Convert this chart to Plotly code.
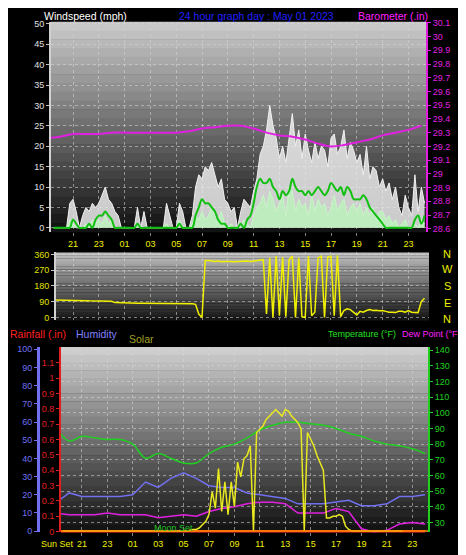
import numpy as np
import plotly.graph_objects as go

W, H = 466, 555
def px_x(p): return p / W
def px_y(p): return 1 - p / H

# ---- data ----
t_q = np.arange(19.5, 48.26, 0.25)   # quarter-hour times (hours since midnight of day before)
t_h = np.arange(19, 49, 1.0)         # hourly times

gust = [0,0, 0,0,0,6, 7,4,0,3, 5,4,6,5, 6,8,10,7, 6,4,3,0, 0,0,0,0, 5,0,4,0, 0,0,0,0,
        0,6,3,0, 0,6,4,0, 0,3,10,13, 12,15,14,16, 13,10,12,7, 6,4,5,0, 4,7,6,5,
        9,12,18,20, 24,30,25,22, 17,20,16,22, 28,20,24,17, 23,19,16,21, 17,20,19,15,
        22,23,18,20, 24,17,21,19, 16,18,13,20, 12,15,14,10, 12,9,11,7, 10,5,3,8,
        5,3,13,4, 10,6]
wind = [0,0, 0,0,0,2, 1,0,0,0, 1,0,2,1, 2,1,3,1, 2,0,0,0, 0,0,0,0, 1,0,0,0, 0,0,0,0,
        0,1,0,0, 0,2,0,0, 0,1,3,2, 4,2,3,5, 3,2,4,1, 0,1,0,0, 0,2,1,0,
        3,5,6,8, 5,9,7,4, 6,8,3,10, 9,4,7,5, 6,3,8,4, 7,5,6,3,
        5,8,4,6, 7,3,5,6, 4,6,3,5, 3,5,2,4, 4,2,3,1, 2,0,1,2,
        0,0,1,0, 2,1]
wind_avg = [0,0, 0,0,0,0, 2,1,0,0, 0,1,0,2, 3,3,4,3, 2,0,0,0, 0,0,0,0, 1,0,0,0, 0,0,0,0,
            0,0,0,0, 0,1,0,0, 0,0,3,5, 7,6,6,5, 4,2,1,1, 0,0,0,0, 1,0,2,3,
            6,10,12,11, 11,12,10,9, 7,9,8,9, 12,10,9,9, 8,9,8,9, 10,9,8,9,
            11,10,9,10, 8,10,9,7, 7,7,8,7, 5,4,3,2, 1,0,0,0, 0,0,0,0,
            0,0,2,3, 1,3]
baro = [29.26,29.27,29.29,29.29,29.29,29.30,29.30,29.30,29.30,29.30,29.30,29.31,29.33,29.34,29.35,
        29.35,29.33,29.30,29.28,29.27,29.25,29.22,29.20,29.21,29.23,29.25,29.28,29.30,29.32,29.35]
wdir = [100,100, 100,100,100,100, 98,98,97,96, 96,95,95,95, 94,94,94,94, 93,85,84,84,
        84,83,83,82, 82,82,82,82, 82,81,81,80, 80,80,80,80, 80,80,80,80, 80,78,75,20,
        0,325,325,322, 320,322,318,320, 322,320,318,320, 320,320,322,320, 322,325,325,330,
        20,340,0,350, 10,345,5,330, 350,0,340,5, 0,350,10,30, 340,350,0,345,
        350,10,355,5, 40,50,45,30, 15,35,30,40, 45,40,42,38, 40,35,30,30,
        28,35,35,30, 40,30,28,28, 90,110]
temp = [90,82,85,84,83,83,80,71,74,71,68,68,74,78,80,84,89,92,94,94,93,92,90,87,85,82,80,79,77,74]
dew = [36,35,35,35,36,35,35,35,33,34,35,34,37,39,40,42,43,43,42,36,36,36,39,37,26,24,25,29,30,29]
hum = [16,21,19,19,19,19,20,27,24,29,32,29,25,24,24,21,20,19,18,15,15,15,16,17,14,14,15,19,19,20]
rain = [0]*30
solar = [0,0, 0,0,0,0, 0,0,0,0, 0,0,0,0, 0,0,0,0, 0,0,0,0, 0,0,0,0, 0,0,0,0, 0,0,0,0,
         0,0,0,0, 0,0,5,10, 10,20,40,60, 100,240,140,380, 120,300,100,300, 150,420,330,440,
         460,520,0,600, 620,640,680,700, 720,740,720,700, 740,730,700,680, 660,620,0,600,
         560,520,460,420, 370,80,80,90, 90,100,90,30, 10,0,0,0, 0,0,0,0,
         0,0,0,0, 0,0,0,0, 0,0]
hour_vals = list(range(21, 48, 2))
hour_text = ["%02d" % (h % 24) for h in hour_vals]
baro_ticks = [round(28.6 + 0.1 * i, 1) for i in range(16)]
dir_ticks = [0, 90, 180, 270, 360]
compass = ["N", "W", "S", "E", "N"]

fig = go.Figure()
# top panel
fig.add_trace(go.Scatter(x=t_q, y=gust, xaxis="x", yaxis="y", mode="lines", fill="tozeroy",
                         line=dict(color="#f0f0f0", width=1), fillcolor="rgba(235,235,235,0.85)"))
fig.add_trace(go.Scatter(x=t_q, y=wind, xaxis="x", yaxis="y", mode="lines", fill="tozeroy",
                         line=dict(color="#c8f5c8", width=1), fillcolor="rgba(190,240,190,0.9)"))
fig.add_trace(go.Scatter(x=t_q, y=wind_avg, xaxis="x", yaxis="y", mode="lines",
                         line=dict(color="#10c010", width=2, shape="spline")))
fig.add_trace(go.Scatter(x=t_h, y=baro, xaxis="x", yaxis="y2", mode="lines",
                         line=dict(color="#e020e0", width=2, shape="spline")))
# middle panel
fig.add_trace(go.Scatter(x=t_q, y=wdir, xaxis="x2", yaxis="y3", mode="lines",
                         line=dict(color="#f0f000", width=1.5)))
# bottom panel
fig.add_trace(go.Scatter(x=t_h, y=temp, xaxis="x3", yaxis="y6", mode="lines",
                         line=dict(color="#20d020", width=1.5, shape="spline")))
fig.add_trace(go.Scatter(x=t_h, y=hum, xaxis="x3", yaxis="y4", mode="lines",
                         line=dict(color="#7070f0", width=1.5)))
fig.add_trace(go.Scatter(x=t_h, y=dew, xaxis="x3", yaxis="y6", mode="lines",
                         line=dict(color="#e020e0", width=1.5)))
fig.add_trace(go.Scatter(x=t_q, y=solar, xaxis="x3", yaxis="y7", mode="lines",
                         line=dict(color="#e8e820", width=1.5)))
fig.add_trace(go.Scatter(x=t_h, y=rain, xaxis="x3", yaxis="y5", mode="lines",
                         line=dict(color="#ff2020", width=3)))

grid = dict(showgrid=True, gridcolor="rgba(215,215,215,0.55)", griddash="dot", gridwidth=1)
tf = dict(family="Liberation Sans, Arial", size=9)

layout = dict(
    width=W, height=H, margin=dict(l=0, r=0, t=0, b=0),
    paper_bgcolor="black", plot_bgcolor="black", showlegend=False,
    font=dict(family="Liberation Sans, Arial", size=9),
    xaxis=dict(domain=[px_x(43), px_x(418)], range=[19.295, 48.36], anchor="y",
               tickvals=hour_vals, ticktext=hour_text, tickfont=dict(color="#f0f000", **tf),
               ticks="outside", ticklen=3, tickcolor="#808080", zeroline=False, **grid),
    yaxis=dict(domain=[px_y(223), px_y(10)], range=[-0.97, 50.48], anchor="x",
               tickvals=list(range(0, 51, 5)), tickfont=dict(color="#e0e0e0", **tf),
               ticks="outside", ticklen=3, tickcolor="#c0c0c0", zeroline=False,
               showline=True, linecolor="#d0d0d0", linewidth=2, **grid),
    yaxis2=dict(overlaying="y", side="right", anchor="x", range=[28.578, 30.107],
                tickvals=baro_ticks, tickfont=dict(color="#e020e0", **tf), showgrid=False,
                ticks="outside", ticklen=3, tickcolor="#e020e0", showline=True,
                linecolor="#e020e0", linewidth=2, zeroline=False),
    xaxis2=dict(domain=[px_x(48), px_x(421)], range=[19.68, 48.6], anchor="y3",
                tickvals=hour_vals, showticklabels=False, zeroline=False, **grid),
    yaxis3=dict(domain=[px_y(313), px_y(244)], range=[-17, 371], anchor="x2",
                tickvals=dir_ticks, tickfont=dict(color="#e0e000", **tf), zeroline=False,
                ticks="outside", ticklen=3, tickcolor="#c0c0c0", showline=True,
                linecolor="#d0d0d0", linewidth=2, **grid),
    xaxis3=dict(domain=[px_x(53), px_x(420)], range=[19.35, 48.24], anchor="y4",
                tickvals=hour_vals, ticktext=hour_text, tickfont=dict(color="#f0f000", **tf),
                ticks="outside", ticklen=3, tickcolor="#808080", zeroline=False, **grid),
    yaxis4=dict(domain=[px_y(528), px_y(340)], range=[-0.7, 101.2], anchor="free",
                position=px_x(30), tickvals=list(range(0, 101, 10)),
                tickfont=dict(color="#7070f0", **tf), showline=True, linecolor="#7070f0",
                linewidth=3, ticks="outside", ticklen=3, tickcolor="#7070f0",
                zeroline=False, showgrid=False),
    yaxis5=dict(overlaying="y4", anchor="free", position=px_x(52), range=[-0.006, 1.203],
                tickvals=[round(0.1 * i, 1) for i in range(12)],
                ticktext=["0", "0.1", "0.2", "0.3", "0.4", "0.5", "0.6", "0.7", "0.8", "0.9", "1", "1.1"],
                tickfont=dict(color="#e02020", **tf), showline=True, linecolor="#e02020",
                linewidth=2, ticks="outside", ticklen=3, tickcolor="#e02020",
                zeroline=False, showgrid=False),
    yaxis6=dict(overlaying="y4", anchor="x3", side="right", range=[23.7, 141.9],
                tickvals=list(range(30, 141, 10)), tickfont=dict(color="#20d020", **tf),
                showline=True, linecolor="#20d020", linewidth=2, ticks="outside", ticklen=3,
                tickcolor="#20d020", zeroline=False, **grid),
    yaxis7=dict(overlaying="y4", anchor="x3", range=[-8, 1120], visible=False),
)
fig.update_layout(**layout)

# gradient backgrounds
def gradient(xr, yr, top, bottom, n=24):
    for i in range(n):
        f = i / n
        c = [int(top[k] + (bottom[k] - top[k]) * f) for k in range(3)]
        fig.add_shape(type="rect", xref=xr, yref=yr, x0=0, x1=1,
                      y1=1 - i / n, y0=1 - (i + 1) / n - 0.002, layer="below",
                      line=dict(width=0), fillcolor="rgb(%d,%d,%d)" % tuple(c))
gradient("x domain", "y domain", (200, 200, 200), (12, 12, 12))
gradient("x2 domain", "y3 domain", (190, 190, 190), (15, 15, 15))
gradient("x3 domain", "y4 domain", (205, 205, 205), (12, 12, 12))

# orange baseline in bottom panel
fig.add_shape(type="line", xref="x3 domain", yref="y5", x0=0, x1=1, y0=0.003, y1=0.003,
              line=dict(color="#ff9000", width=1.5))

def txt(s, x, y, color, size=11, xa="left"):
    fig.add_annotation(text=s, x=px_x(x), y=px_y(y), xref="paper", yref="paper",
                       xanchor=xa, yanchor="middle", showarrow=False,
                       font=dict(color=color, size=size, family="Liberation Sans, Arial"))

txt("Windspeed (mph)", 34, 4, "white", size=10.5)
txt("24 hour graph day : May 01 2023", 248, 4, "#2020ff", size=10.5, xa="center")
txt("Barometer (.in)", 422, 4, "#ff20ff", size=10.5, xa="right")
for lab, yy in zip(compass, [246, 261, 278, 295, 311]):
    txt(lab, 439, yy, "#f0f000", size=11, xa="center")
txt("Rainfall (.in)", 0, 327, "#ff2020", size=10.5)
txt("Humidity", 66, 327, "#8080ff", size=10.5)
txt("Solar", 119, 332, "#a0a020", size=10.5)
txt("Temperature (°F)", 318, 327, "#20e020", size=9)
txt("Dew Point (°F)", 392, 327, "#ff20ff", size=9)
txt("Moon Set", 144, 524, "#20c020", size=9)
txt("Sun Set", 68, 540, "#f0f000", size=9, xa="right")

fig.write_html("out.html")
